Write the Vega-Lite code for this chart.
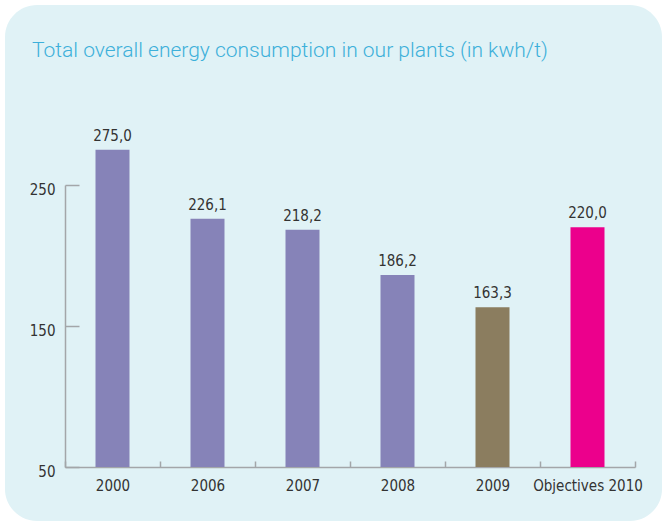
{
  "$schema": "https://vega.github.io/schema/vega-lite/v6.json",
  "width": 657,
  "height": 516,
  "autosize": {"type": "none"},
  "padding": {"left": 5, "top": 5, "right": 0, "bottom": 7},
  "background": "white",
  "title": {
    "text": "Total overall energy consumption in our plants (in kwh/t)",
    "anchor": "start",
    "frame": "group",
    "orient": "top",
    "offset": 0,
    "dx": 27,
    "dy": 73,
    "baseline": "alphabetic",
    "font": "Roboto",
    "fontWeight": 300,
    "fontSize": 21,
    "color": "#3db0da"
  },
  "data": {
    "values": [
      {"year": "2000", "value": 275.0, "type": "past"},
      {"year": "2006", "value": 226.1, "type": "past"},
      {"year": "2007", "value": 218.2, "type": "past"},
      {"year": "2008", "value": 186.2, "type": "past"},
      {"year": "2009", "value": 163.3, "type": "current"},
      {"year": "Objectives 2010", "value": 220.0, "type": "objective"}
    ]
  },
  "encoding": {
    "x": {
      "field": "year",
      "type": "nominal",
      "sort": null,
      "scale": {"range": [60, 630], "paddingInner": 0, "paddingOuter": 0},
      "axis": {
        "title": null,
        "orient": "bottom",
        "offset": -54,
        "labelAngle": 0,
        "tickBand": "extent",
        "tickSize": -6,
        "labelPadding": 17,
        "labelFont": "DejaVu Sans Condensed, Liberation Sans",
        "labelFontSize": 15,
        "labelColor": "#333333",
        "domainColor": "#a3a6a9",
        "tickColor": "#a3a6a9",
        "domainWidth": 1.5,
        "tickWidth": 1.5
      }
    },
    "y": {
      "field": "value",
      "type": "quantitative",
      "scale": {"domain": [50, 250], "range": [462, 180], "zero": false, "nice": false},
      "axis": {
        "title": null,
        "orient": "left",
        "offset": -60,
        "values": [50, 150, 250],
        "grid": false,
        "tickSize": -14,
        "labelPadding": 24,
        "labelOffset": 4,
        "labelFont": "DejaVu Sans Condensed, Liberation Sans",
        "labelFontSize": 15,
        "labelColor": "#333333",
        "domainColor": "#a3a6a9",
        "tickColor": "#a3a6a9",
        "domainWidth": 1.5,
        "tickWidth": 1.5
      }
    }
  },
  "layer": [
    {
      "mark": {"type": "bar", "width": {"band": 0.358}},
      "encoding": {
        "y2": {"datum": 50},
        "color": {
          "field": "type",
          "type": "nominal",
          "scale": {"domain": ["past", "current", "objective"], "range": ["#8683b8", "#8b7d5f", "#ec008c"]},
          "legend": null
        }
      }
    },
    {
      "mark": {"type": "text", "baseline": "alphabetic", "dy": -9, "font": "DejaVu Sans Condensed, Liberation Sans", "fontSize": 15, "color": "#333333"},
      "encoding": {
        "text": {"field": "value", "type": "quantitative", "format": ".1f"}
      }
    }
  ],
  "config": {
    "locale": {"number": {"decimal": ",", "thousands": ".", "grouping": [3], "currency": ["", " €"]}},
    "view": {"fill": "#e0f2f6", "stroke": null, "cornerRadius": 32}
  }
}
